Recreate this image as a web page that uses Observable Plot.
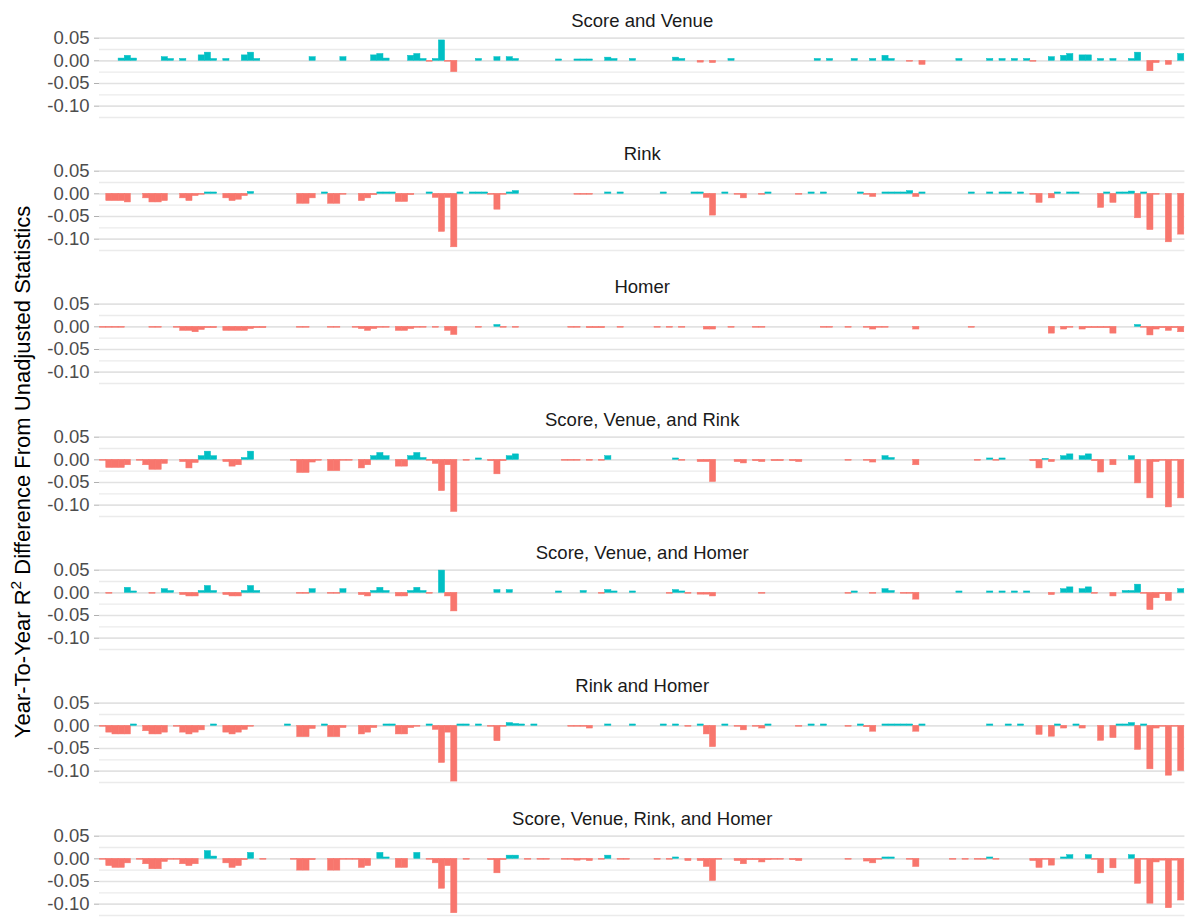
<!DOCTYPE html>
<html><head><meta charset="utf-8">
<script src="https://cdn.jsdelivr.net/npm/d3@7"></script>
<script src="https://cdn.jsdelivr.net/npm/@observablehq/plot@0.6"></script>
<style>
body{margin:0;background:#fff;font-family:"Liberation Sans",Arial,sans-serif;}
#chart{width:1187px;height:917px;}
</style></head>
<body><div id="chart"></div>
<script>
const panels = ["Score and Venue","Rink","Homer","Score, Venue, and Rink","Score, Venue, and Homer","Rink and Homer","Score, Venue, Rink, and Homer"];
const categories = d3.range(1, 177);
const yTicks = [0.05, 0, -0.05, -0.10];
const yMinor = [0.025, -0.025, -0.075, -0.125];

// [category, value] pairs per panel (categories without a visible bar omitted)
const scoreVenue = [[4,.005],[5,.011],[6,.005],[11,.008],[12,.004],[14,.004],[17,.012],[18,.018],[19,.004],[21,.004],[24,.012],[25,.018],[26,.004],[35,.008],[40,.008],[45,.012],[46,.015],[47,.005],[51,.011],[52,.015],[53,.004],[54,-.002],[55,.004],[56,.045],[57,-.002],[58,-.025],[62,.004],[65,.008],[67,.008],[68,.004],[75,.003],[78,.003],[79,.003],[80,.003],[83,.007],[84,.004],[87,.004],[94,.007],[95,.004],[98,-.004],[100,-.005],[103,.004],[117,.004],[119,.004],[123,.004],[126,.004],[128,.011],[129,.004],[132,-.002],[134,-.009],[140,.004],[145,.004],[147,.004],[149,.004],[151,.004],[152,-.002],[155,.008],[157,.011],[158,.015],[160,.012],[161,.012],[163,.004],[165,.004],[168,.004],[169,.018],[171,-.023],[172,-.005],[174,-.009],[176,.015]];
const rink = [[2,-.016],[3,-.016],[4,-.016],[5,-.019],[8,-.010],[9,-.019],[10,-.019],[11,-.016],[14,-.010],[15,-.016],[16,-.005],[17,-.002],[18,.003],[19,.003],[21,-.010],[22,-.016],[23,-.013],[24,-.005],[25,.004],[33,-.022],[34,-.022],[35,-.010],[37,.003],[38,-.022],[39,-.022],[40,-.002],[43,-.016],[44,-.010],[45,-.003],[46,.003],[47,.003],[48,.003],[49,-.018],[50,-.018],[51,-.003],[54,.003],[55,-.009],[56,-.084],[57,-.009],[58,-.118],[59,.003],[61,.003],[62,.003],[63,.003],[64,-.002],[65,-.035],[66,-.002],[67,.003],[68,.006],[78,-.002],[79,-.002],[80,-.002],[83,.003],[85,.003],[92,.003],[97,.003],[98,.003],[99,-.009],[100,-.048],[102,.003],[104,-.002],[105,-.010],[108,-.002],[109,.003],[114,-.002],[116,.003],[118,.003],[124,.003],[125,-.002],[126,-.007],[128,.003],[129,.003],[130,.003],[131,.003],[132,.006],[133,-.007],[134,.003],[142,.003],[145,.003],[147,.003],[148,.003],[150,.003],[152,-.002],[153,-.020],[155,-.010],[156,.003],[158,.003],[159,.003],[163,-.031],[164,.003],[165,-.020],[166,.003],[167,.003],[168,.005],[169,-.054],[170,.003],[171,-.080],[172,-.002],[174,-.107],[176,-.090]];
const homer = [[1,-.002],[2,-.002],[3,-.002],[4,-.002],[9,-.002],[10,-.002],[13,-.002],[14,-.009],[15,-.009],[16,-.012],[17,-.007],[18,-.003],[19,-.003],[21,-.009],[22,-.009],[23,-.009],[24,-.009],[25,-.005],[26,-.003],[27,-.003],[33,-.002],[34,-.002],[38,-.002],[39,-.002],[42,-.002],[43,-.005],[44,-.009],[45,-.005],[46,-.002],[47,-.002],[49,-.009],[50,-.009],[51,-.005],[52,-.002],[53,-.002],[55,-.002],[57,-.009],[58,-.018],[62,-.002],[65,.004],[66,-.002],[68,-.002],[77,-.002],[78,-.002],[80,-.003],[81,-.003],[82,-.003],[85,-.002],[91,-.002],[93,-.002],[95,-.002],[99,-.006],[100,-.006],[103,-.002],[107,-.002],[108,-.002],[118,-.002],[119,-.002],[122,-.002],[125,-.002],[126,-.006],[127,-.002],[128,-.002],[133,-.006],[142,-.002],[155,-.015],[157,-.006],[158,-.002],[160,-.006],[161,-.003],[162,-.003],[163,-.003],[164,-.003],[165,-.015],[169,.004],[170,-.002],[171,-.019],[172,-.006],[173,-.003],[174,-.009],[175,-.003],[176,-.012]];
const scoreVenueRink = [[1,-.002],[2,-.018],[3,-.018],[4,-.018],[5,-.012],[7,-.002],[8,-.012],[9,-.022],[10,-.022],[11,-.009],[14,-.005],[15,-.019],[16,-.007],[17,.008],[18,.018],[19,.008],[21,-.005],[22,-.015],[23,-.012],[24,.004],[25,.018],[32,-.002],[33,-.029],[34,-.029],[35,-.006],[36,-.002],[38,-.025],[39,-.025],[40,-.002],[41,-.002],[43,-.019],[44,-.012],[45,.008],[46,.015],[47,.008],[49,-.015],[50,-.015],[51,.008],[52,.015],[53,.004],[54,-.002],[55,-.009],[56,-.069],[57,-.012],[58,-.115],[60,-.002],[62,.003],[64,-.003],[65,-.032],[66,-.003],[67,.008],[68,.012],[76,-.002],[77,-.002],[78,-.002],[80,-.002],[82,-.002],[83,.008],[94,.003],[95,-.002],[98,-.005],[99,-.005],[100,-.049],[104,-.005],[105,-.008],[107,-.003],[108,-.005],[110,-.003],[111,-.003],[113,-.003],[114,-.005],[122,-.002],[125,-.002],[126,-.006],[128,.008],[129,.004],[133,-.012],[143,-.002],[145,.003],[146,-.002],[147,.003],[152,-.003],[153,-.019],[154,.002],[155,-.005],[157,.008],[158,.012],[160,.008],[161,.012],[162,-.003],[163,-.028],[165,-.012],[168,.008],[169,-.052],[171,-.085],[172,-.005],[173,-.002],[174,-.105],[175,-.002],[176,-.085]];
const scoreVenueHomer = [[2,-.002],[5,.011],[6,.003],[9,-.002],[11,.008],[12,.004],[14,-.005],[15,-.008],[16,-.008],[17,.004],[18,.015],[19,.004],[21,-.005],[22,-.008],[23,-.008],[24,.004],[25,.015],[26,.004],[33,-.002],[34,-.002],[35,.008],[38,-.002],[39,-.002],[40,.008],[43,-.005],[44,-.008],[45,.004],[46,.011],[47,.004],[49,-.008],[50,-.008],[51,.004],[52,.011],[53,.004],[54,-.002],[56,.049],[57,-.008],[58,-.041],[65,.006],[67,.006],[75,.003],[79,.004],[82,-.002],[83,.006],[84,.003],[87,.003],[93,-.002],[94,.006],[95,.003],[96,-.002],[98,-.004],[99,-.004],[100,-.008],[108,-.002],[122,-.002],[123,.003],[126,-.002],[128,.008],[129,.004],[131,-.002],[132,-.002],[133,-.015],[140,.003],[145,.003],[147,.003],[149,.003],[151,.003],[155,-.005],[157,.008],[158,.012],[160,.008],[161,.012],[162,-.002],[165,-.008],[167,.004],[168,.004],[169,.018],[170,-.002],[171,-.038],[172,-.012],[173,-.003],[174,-.018],[176,.008]];
const rinkHomer = [[1,-.002],[2,-.015],[3,-.019],[4,-.019],[5,-.019],[6,.003],[8,-.012],[9,-.019],[10,-.019],[11,-.015],[13,-.002],[14,-.015],[15,-.019],[16,-.015],[17,-.010],[19,.003],[21,-.015],[22,-.019],[23,-.015],[24,-.009],[25,-.002],[31,.003],[33,-.025],[34,-.025],[35,-.007],[37,.003],[38,-.025],[39,-.025],[40,-.005],[43,-.019],[44,-.015],[45,-.005],[47,.003],[48,.003],[49,-.019],[50,-.019],[51,-.005],[52,-.002],[54,.003],[55,-.009],[56,-.082],[57,-.015],[58,-.123],[59,.003],[60,.003],[62,.003],[64,-.002],[65,-.034],[66,-.002],[67,.006],[68,.004],[69,.003],[71,.003],[77,-.002],[78,-.002],[79,-.002],[80,-.006],[83,.003],[87,.003],[92,.003],[94,.003],[96,-.002],[98,.003],[99,-.019],[100,-.047],[102,.003],[104,-.002],[105,-.010],[107,-.002],[108,-.006],[109,.003],[114,-.002],[116,.003],[118,.003],[122,-.002],[124,.003],[125,-.003],[126,-.013],[128,.003],[129,.003],[130,.003],[131,.003],[132,.003],[133,-.013],[134,.003],[145,.003],[148,.003],[150,.003],[153,-.020],[155,-.024],[156,.003],[157,-.006],[159,.003],[160,-.006],[163,-.033],[165,-.027],[166,.003],[167,.003],[168,.006],[169,-.053],[170,.003],[171,-.096],[172,-.006],[173,-.002],[174,-.110],[175,-.002],[176,-.100]];
const allFour = [[1,-.002],[2,-.016],[3,-.020],[4,-.020],[5,-.010],[7,-.002],[8,-.012],[9,-.023],[10,-.023],[11,-.007],[12,-.002],[13,-.002],[14,-.012],[15,-.016],[16,-.012],[18,.017],[19,.005],[21,-.010],[22,-.020],[23,-.016],[24,-.003],[25,.013],[27,-.002],[32,-.002],[33,-.026],[34,-.026],[35,-.003],[38,-.026],[39,-.026],[40,-.002],[41,-.002],[42,-.002],[43,-.020],[44,-.016],[46,.013],[47,.003],[49,-.020],[50,-.020],[52,.013],[54,-.002],[55,-.010],[56,-.066],[57,-.016],[58,-.120],[60,-.002],[64,-.003],[65,-.032],[66,-.003],[67,.007],[68,.007],[70,-.002],[72,-.002],[73,-.002],[76,-.002],[77,-.002],[78,-.004],[79,-.002],[80,-.005],[82,-.002],[83,.007],[85,-.002],[86,-.002],[91,-.002],[93,-.002],[94,.003],[96,-.005],[98,-.005],[99,-.018],[100,-.049],[101,-.002],[104,-.005],[105,-.012],[106,-.003],[107,-.003],[108,-.008],[109,-.003],[110,-.002],[111,-.002],[113,-.003],[114,-.005],[122,-.002],[125,-.006],[126,-.010],[127,-.002],[128,.003],[129,.003],[132,-.002],[133,-.018],[139,-.002],[141,-.002],[143,-.002],[144,-.002],[145,.003],[146,-.002],[152,-.005],[153,-.020],[154,-.002],[155,-.015],[157,.003],[158,.008],[161,.008],[162,-.002],[163,-.032],[165,-.021],[168,.008],[169,-.055],[170,-.002],[171,-.099],[172,-.008],[173,-.004],[174,-.109],[175,-.004],[176,-.092]];

const series = [scoreVenue, rink, homer, scoreVenueRink, scoreVenueHomer, rinkHomer, allFour];
const rows = series.flatMap((arr, k) => arr.map(([i, v]) => ({panel: panels[k], i, v})));

const TEAL = "#00BFC4", SALMON = "#F8766D";
const signColor = d => d.v > 0 ? TEAL : SALMON;

const chart = Plot.plot({
  width: 1187,
  height: 917,
  marginLeft: 99,
  marginRight: 2.6,
  marginTop: 36.3,
  marginBottom: 0.65,
  style: {fontFamily: '"Liberation Sans", Arial, sans-serif', background: "#fff"},
  x: {type: "band", domain: categories, paddingInner: 0, paddingOuter: 0.1, round: false, axis: null},
  y: {domain: [-0.128, 0.053], axis: null},
  fy: {domain: panels, paddingInner: 0.3831, paddingOuter: 0, round: false, axis: null},
  marks: [
    Plot.ruleY(yMinor, {stroke: "#ebebeb", strokeWidth: 1.3}),
    Plot.ruleY(yTicks, {stroke: "#e2e2e2", strokeWidth: 1.6}),
    Plot.axisY({ticks: yTicks, tickFormat: d => d.toFixed(2), tickSize: 5, tickPadding: 5, fontSize: 18.5, color: "#4d4d4d", stroke: "#b0b0b0", label: null}),
    Plot.barY(rows, {x: "i", y: "v", fy: "panel", fill: signColor, stroke: signColor, strokeWidth: 0.5}),
    Plot.text(panels, {fy: d => d, text: d => d, frameAnchor: "top", lineAnchor: "bottom", dy: -10, fontSize: 18.5, fill: "#1a1a1a"})
  ]
});
document.getElementById("chart").appendChild(chart);

// y-axis title
const svg = d3.select(chart);
const t = svg.append("text")
  .attr("transform", "translate(30,472) rotate(-90)")
  .attr("text-anchor", "middle")
  .attr("font-size", 22)
  .attr("fill", "#000")
  .attr("font-family", '"Liberation Sans", Arial, sans-serif');
t.append("tspan").text("Year-To-Year R");
t.append("tspan").attr("font-size", 15.5).attr("dy", -9).text("2");
t.append("tspan").attr("dy", 9).text(" Difference From Unadjusted Statistics");
</script></body></html>
